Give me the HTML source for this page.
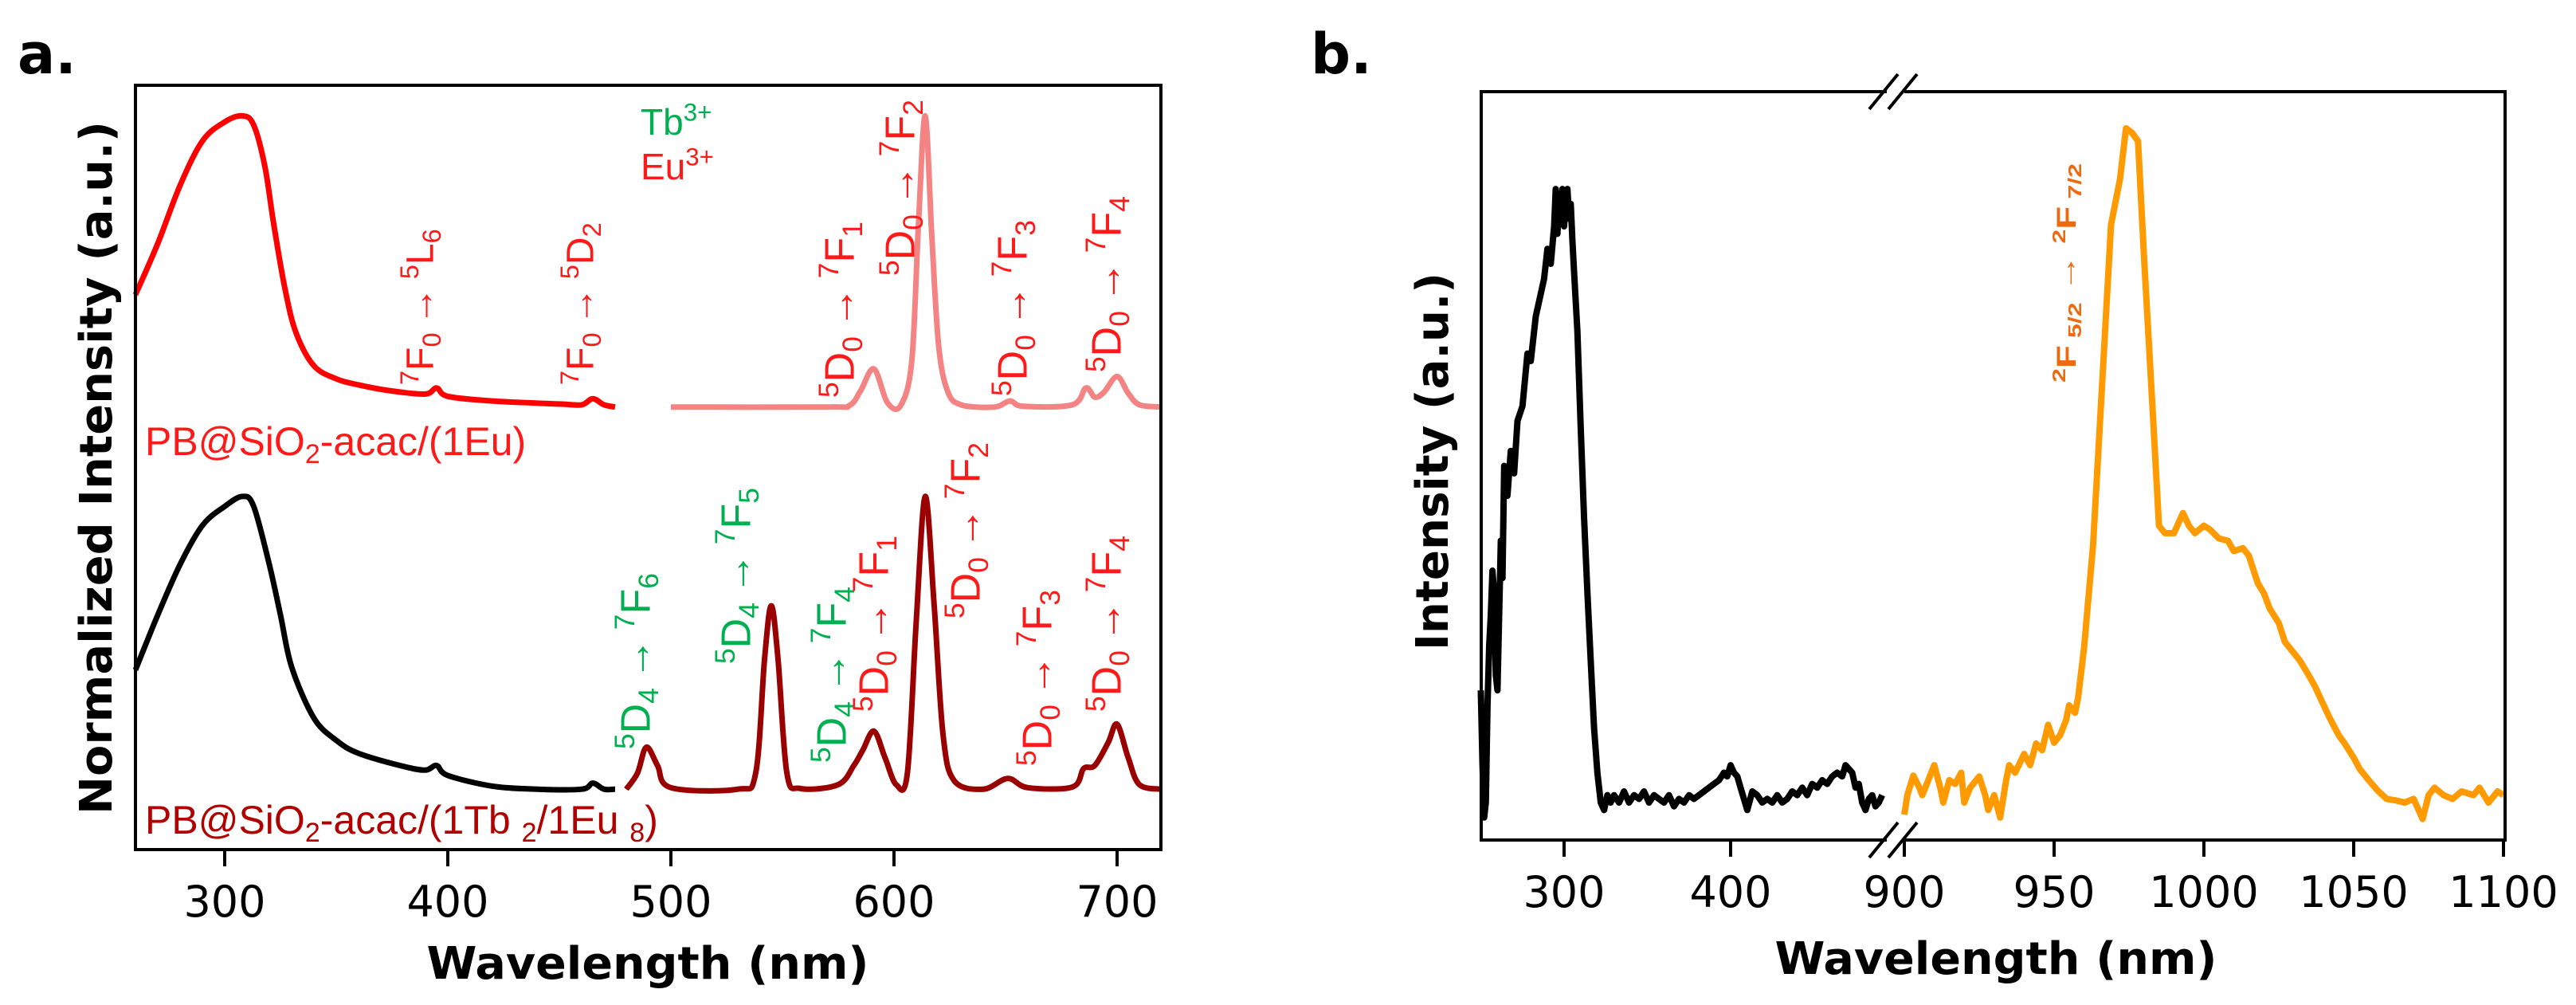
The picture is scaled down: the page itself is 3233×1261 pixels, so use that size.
<!DOCTYPE html>
<html><head><meta charset="utf-8">
<style>
html,body{margin:0;padding:0;background:#fff;}
svg{display:block;}
.tick{font-family:"DejaVu Sans",sans-serif;font-size:54px;fill:#000;}
.title{font-family:"DejaVu Sans",sans-serif;font-weight:bold;fill:#000;}
.ann{font-family:"Liberation Sans",sans-serif;font-size:50px;}
</style></head>
<body>
<svg id="fig" width="3233" height="1261" viewBox="0 0 3233 1261" xmlns="http://www.w3.org/2000/svg">
<g id="pa"></g>
<g id="pb"></g>
</svg>
<script>
// ---------- Panel a data ----------
const aTicks = [300,400,500,600,700];
const aRedX = [260,270,280,290,300,308,313,318,322,327,332,340,350,360,375,390,395,400,420,450,460,465,470,475];
const aRedY = [0.726,0.793,0.869,0.927,0.952,0.960,0.948,0.894,0.818,0.734,0.676,0.633,0.616,0.608,0.600,0.596,0.604,0.593,0.587,0.583,0.582,0.590,0.582,0.579];
const aPinkX = [500,570,580,585,591,597,603,608,611,614,617,620,624,630,645,652,658,680,686,690,694,700,705,710,720];
const aPinkY = [0.579,0.579,0.581,0.600,0.629,0.585,0.581,0.640,0.820,0.960,0.800,0.660,0.600,0.582,0.579,0.587,0.580,0.582,0.604,0.592,0.598,0.619,0.597,0.582,0.579];
const aBlackX = [260,270,280,290,300,308,313,320,325,330,340,350,360,380,390,395,400,420,440,460,465,470,475];
const aBlackY = [0.235,0.307,0.373,0.424,0.449,0.462,0.449,0.373,0.307,0.239,0.172,0.143,0.126,0.109,0.104,0.110,0.097,0.083,0.079,0.079,0.087,0.079,0.079];
const aDarkX = [480,485,489,494,500,530,538,542,545,548,552,558,575,582,586,591,596,601,606,610,614,618,622,627,640,651,660,680,685,690,696,700,705,710,720];
const aDarkY = [0.079,0.100,0.134,0.110,0.081,0.079,0.100,0.250,0.319,0.250,0.100,0.080,0.085,0.110,0.130,0.155,0.120,0.085,0.100,0.300,0.462,0.320,0.150,0.090,0.079,0.093,0.081,0.082,0.106,0.110,0.140,0.164,0.120,0.085,0.079];

// ---------- Panel b data ----------
const bLeftTicks = [300,400];
const bRightTicks = [900,950,1000,1050,1100];
const bBlackX = [250,251,252,253,254,255,256,257,258,259,260,261,262,263,264,266,268,270,272,275,278,280,283,285,288,290,292,294,295,296,297,298,299,300,301,302,303,304,305,306,308,310,312,314,316,318,320,322,324,326,328,330,333,336,339,342,345,348,351,354,357,360,363,366,369,372,375,378,381,384,387,390,393,396,398,400,402,404,406,408,410,413,416,419,422,425,428,431,434,437,440,443,446,449,452,455,458,461,464,467,469,471,473,475,477,479,481,483,485,487,489,491];
const bBlackY = [0.20,0.10,0.03,0.05,0.18,0.26,0.30,0.36,0.33,0.22,0.20,0.30,0.40,0.35,0.50,0.46,0.52,0.49,0.56,0.58,0.65,0.64,0.70,0.72,0.75,0.79,0.77,0.82,0.87,0.81,0.85,0.84,0.87,0.82,0.86,0.87,0.83,0.85,0.80,0.76,0.68,0.55,0.43,0.33,0.24,0.15,0.09,0.05,0.04,0.06,0.05,0.06,0.05,0.065,0.05,0.06,0.055,0.065,0.05,0.06,0.055,0.05,0.06,0.045,0.055,0.05,0.06,0.055,0.06,0.065,0.07,0.075,0.08,0.09,0.085,0.10,0.09,0.085,0.07,0.055,0.04,0.065,0.06,0.05,0.055,0.05,0.06,0.05,0.055,0.065,0.06,0.07,0.06,0.075,0.07,0.08,0.075,0.085,0.09,0.085,0.10,0.095,0.09,0.07,0.075,0.05,0.04,0.055,0.06,0.045,0.05,0.06];
const bOrangeX = [900,901,903,905,906,908,910,912,913,915,917,919,920,922,925,927,928,930,932,934,935,937,940,942,944,946,948,950,952,954,955,957,958,960,963,966,969,972,974,976,978,980,983,985,987,990,993,995,997,1000,1002,1005,1008,1010,1013,1015,1018,1020,1022,1025,1027,1030,1032,1035,1037,1040,1042,1045,1047,1050,1052,1055,1058,1061,1064,1067,1070,1073,1075,1077,1080,1083,1086,1090,1092,1095,1098,1100];
const bOrangeY = [0.034,0.06,0.086,0.07,0.06,0.08,0.10,0.07,0.05,0.08,0.075,0.09,0.05,0.07,0.085,0.06,0.04,0.06,0.03,0.08,0.10,0.09,0.115,0.10,0.129,0.12,0.154,0.13,0.14,0.16,0.18,0.17,0.19,0.257,0.394,0.608,0.822,0.883,0.951,0.945,0.934,0.780,0.566,0.420,0.41,0.41,0.437,0.42,0.41,0.42,0.415,0.403,0.40,0.386,0.39,0.38,0.343,0.33,0.309,0.29,0.265,0.25,0.24,0.22,0.206,0.18,0.163,0.14,0.129,0.11,0.095,0.08,0.066,0.055,0.053,0.05,0.055,0.028,0.06,0.07,0.06,0.055,0.065,0.06,0.07,0.05,0.065,0.06];

const NS = "http://www.w3.org/2000/svg";
function mk(tag, attrs, parent){const e=document.createElementNS(NS,tag);for(const k in attrs)e.setAttribute(k,attrs[k]);parent.appendChild(e);return e;}

// scales
const xa = w => 282 + (w-300)*2.8;
const ya = v => 1066 - v*959;
const xbL = w => 1963 + (w-300)*2.09;
const xbR = w => 2390 + (w-900)*3.76;
const yb = v => 1054 - v*939;

function smoothPath(xs, ys, fx, fy){
  const p = xs.map((x,i)=>[fx(x), fy(ys[i])]);
  let d = "M"+p[0][0].toFixed(1)+","+p[0][1].toFixed(1);
  for(let i=0;i<p.length-1;i++){
    const p0=p[Math.max(0,i-1)], p1=p[i], p2=p[i+1], p3=p[Math.min(p.length-1,i+2)];
    const c1=[p1[0]+(p2[0]-p0[0])/6, p1[1]+(p2[1]-p0[1])/6];
    const c2=[p2[0]-(p3[0]-p1[0])/6, p2[1]-(p3[1]-p1[1])/6];
    d+=" C"+c1[0].toFixed(1)+","+c1[1].toFixed(1)+" "+c2[0].toFixed(1)+","+c2[1].toFixed(1)+" "+p2[0].toFixed(1)+","+p2[1].toFixed(1);
  }
  return d;
}
function linePath(xs, ys, fx, fy){
  return xs.map((x,i)=>(i?"L":"M")+fx(x).toFixed(1)+","+fy(ys[i]).toFixed(1)).join(" ");
}

function rich(parent, segs, fs){
  let shift = 0;
  segs.forEach(s=>{
    const t = mk("tspan", {}, parent);
    let target = 0, size = fs;
    if(s[1]==='sup'){target=-0.38*fs; size=fs*0.68;}
    if(s[1]==='sub'){target=0.2*fs; size=fs*0.68;}
    t.setAttribute("dy", (target-shift).toFixed(1));
    t.setAttribute("font-size", size.toFixed(1));
    shift = target;
    t.textContent = s[0];
  });
}
function vlabel(parent, cx, bottom, segs, color, fs, name, bold){
  const bx = cx + fs*0.36;
  const t = mk("text", {x:bx, y:bottom, transform:"rotate(-90 "+bx+" "+bottom+")", fill:color, class:"ann"}, parent);
  
  
  t.setAttribute("font-size", fs);
  if(bold) t.setAttribute("font-weight","bold");
  rich(t, segs, fs);
  return t;
}
const AR = "\u2009\u2192\u2009";
const D0 = (to)=>[["5","sup"],["D",""],["0","sub"],[AR,""],["7","sup"],["F",""],[to,"sub"]];
const D4 = (to)=>[["5","sup"],["D",""],["4","sub"],[AR,""],["7","sup"],["F",""],[to,"sub"]];
const F0 = (a,b)=>[["7","sup"],["F",""],["0","sub"],[AR,""],["5","sup"],[a,""],[b,"sub"]];

// ================= PANEL A =================
const pa = document.getElementById("pa");
const RED="#ff1a1a", GREEN="#00b050", DARK="#9b0000";
[[aRedX,aRedY,"#ff0000","curve-eu-excitation"],[aPinkX,aPinkY,"#f48484","curve-eu-emission"],[aBlackX,aBlackY,"#000","curve-tbeu-excitation"],[aDarkX,aDarkY,DARK,"curve-tbeu-emission"]].forEach(c=>{
  const p = mk("path",{d:smoothPath(c[0],c[1],xa,ya),fill:"none",stroke:c[2],"stroke-width":7,"stroke-linejoin":"round"},pa);
  
  
});
const fa = mk("rect",{x:170,y:107,width:1287,height:959,fill:"none",stroke:"#000","stroke-width":4},pa);


aTicks.forEach(t=>{
  const l = mk("line",{x1:xa(t),x2:xa(t),y1:1066,y2:1087,stroke:"#000","stroke-width":4},pa);
  
  
  const tx = mk("text",{x:xa(t),y:1150,"text-anchor":"middle",class:"tick"},pa);
  
  
  tx.textContent = t;
});
let tt = mk("text",{x:813,y:1228,"text-anchor":"middle",class:"title","font-size":56,textLength:555,lengthAdjust:"spacingAndGlyphs"},pa);


tt.textContent="Wavelength (nm)";
tt = mk("text",{x:140,y:587,transform:"rotate(-90 140 587)","text-anchor":"middle",class:"title","font-size":56,textLength:870,lengthAdjust:"spacingAndGlyphs"},pa);


tt.textContent="Normalized Intensity (a.u.)";
tt = mk("text",{x:22,y:92,class:"title","font-size":70},pa);


tt.textContent="a.";
tt = mk("text",{x:804,y:169,class:"ann",fill:GREEN,"font-size":46},pa);


rich(tt,[["Tb",""],["3+","sup"]],46);
tt = mk("text",{x:804,y:225,class:"ann",fill:RED,"font-size":46},pa);


rich(tt,[["Eu",""],["3+","sup"]],46);
tt = mk("text",{x:182,y:571,class:"ann",fill:RED,"font-size":50},pa);


rich(tt,[["PB@SiO",""],["2","sub"],["-acac/(1Eu)",""]],50);
tt = mk("text",{x:182,y:1046,class:"ann",fill:"#b00000","font-size":50},pa);


rich(tt,[["PB@SiO",""],["2","sub"],["-acac/(1Tb ",""],["2","sub"],["/1Eu ",""],["8","sub"],[")",""]],50);
vlabel(pa,526,483,F0("L","6"),RED,48,"ann-7f0-5l6");
vlabel(pa,727,483,F0("D","2"),RED,48,"ann-7f0-5d2");
vlabel(pa,1053,499,D0("1"),RED,52,"ann-top-5d0-7f1");
vlabel(pa,1129,346,D0("2"),RED,52,"ann-top-5d0-7f2");
vlabel(pa,1270,497,D0("3"),RED,52,"ann-top-5d0-7f3");
vlabel(pa,1388,467,D0("4"),RED,52,"ann-top-5d0-7f4");
vlabel(pa,797,940,D4("6"),GREEN,52,"ann-5d4-7f6");
vlabel(pa,923,833,D4("5"),GREEN,52,"ann-5d4-7f5");
vlabel(pa,1043,957,D4("4"),GREEN,52,"ann-5d4-7f4");
vlabel(pa,1096,893,D0("1"),RED,52,"ann-bot-5d0-7f1");
vlabel(pa,1211,776,D0("2"),RED,52,"ann-bot-5d0-7f2");
vlabel(pa,1301,961,D0("3"),RED,52,"ann-bot-5d0-7f3");
vlabel(pa,1388,893,D0("4"),RED,52,"ann-bot-5d0-7f4");

// ================= PANEL B =================
const pb = document.getElementById("pb");
let c1 = mk("path",{d:linePath(bBlackX,bBlackY,xbL,yb),fill:"none",stroke:"#000","stroke-width":8,"stroke-linejoin":"round"},pb);


let c2 = mk("path",{d:linePath(bOrangeX,bOrangeY,xbR,yb),fill:"none",stroke:"#ff9a00","stroke-width":8,"stroke-linejoin":"round"},pb);


const fb = mk("rect",{x:1859,y:115,width:1285,height:939,fill:"none",stroke:"#000","stroke-width":4},pb);


[115,1054].forEach((yy,i)=>{
  mk("rect",{x:2368,y:yy-4,width:22,height:8,fill:"#fff"},pb);
  [0,24].forEach(dx=>{
    const l = mk("line",{x1:2346+dx,y1:yy+22,x2:2382+dx,y2:yy-22,stroke:"#000","stroke-width":4},pb);
    
    
  });
});
bLeftTicks.forEach(t=>{
  const l = mk("line",{x1:xbL(t),x2:xbL(t),y1:1054,y2:1075,stroke:"#000","stroke-width":4},pb);
  
  
  const tx = mk("text",{x:xbL(t),y:1138,"text-anchor":"middle",class:"tick"},pb);
  
  
  tx.textContent=t;
});
bRightTicks.forEach(t=>{
  const l = mk("line",{x1:xbR(t),x2:xbR(t),y1:1054,y2:1075,stroke:"#000","stroke-width":4},pb);
  
  
  const tx = mk("text",{x:xbR(t),y:1138,"text-anchor":"middle",class:"tick"},pb);
  
  
  tx.textContent=t;
});
tt = mk("text",{x:2505,y:1222,"text-anchor":"middle",class:"title","font-size":56,textLength:555,lengthAdjust:"spacingAndGlyphs"},pb);


tt.textContent="Wavelength (nm)";
tt = mk("text",{x:1817,y:579,transform:"rotate(-90 1817 579)","text-anchor":"middle",class:"title","font-size":56,textLength:474,lengthAdjust:"spacingAndGlyphs"},pb);


tt.textContent="Intensity (a.u.)";
tt = mk("text",{x:1645,y:92,class:"title","font-size":70},pb);


tt.textContent="b.";
const yba = mk("text",{x:2605,y:480,transform:"rotate(-90 2605 480)",class:"ann",fill:"#ee6a10","font-weight":"bold","font-size":34,textLength:275,lengthAdjust:"spacingAndGlyphs"},pb);


rich(yba,[["2","sup"],["F",""],[" 5/2","sub"],["  \u2192  ",""],["2","sup"],["F",""],[" 7/2","sub"]],34);
</script>
</body></html>
